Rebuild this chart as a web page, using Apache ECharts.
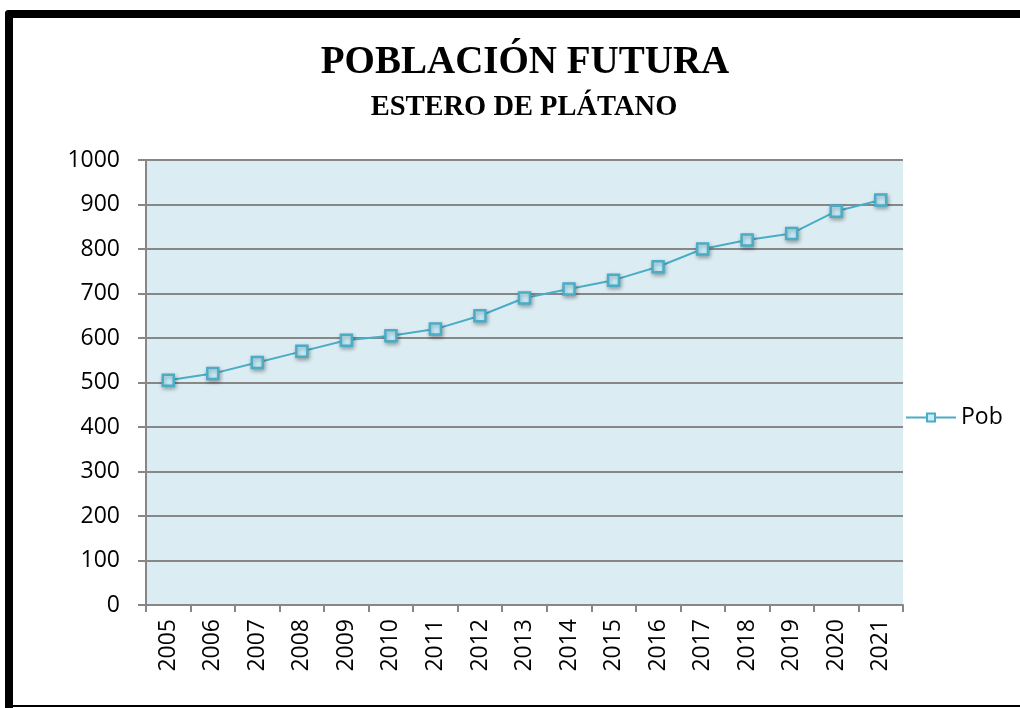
<!DOCTYPE html>
<html>
<head>
<meta charset="utf-8">
<script src="https://cdn.jsdelivr.net/npm/echarts@6/dist/echarts.min.js"></script>
<style>
  html, body { margin: 0; padding: 0; background: #ffffff; }
  #chart { width: 1020px; height: 708px; }
</style>
</head>
<body>
<div id="chart"></div>
<script>
// Projected population, Estero de Plátano
const years = ['2005','2006','2007','2008','2009','2010','2011','2012','2013',
               '2014','2015','2016','2017','2018','2019','2020','2021'];
const pob = [505, 520, 545, 570, 595, 605, 620, 650, 690,
             710, 730, 760, 800, 820, 835, 885, 910];
const yTicks = [0, 100, 200, 300, 400, 500, 600, 700, 800, 900, 1000];

const lineColor = '#4bacc6';
const gridGray = '#878787';
const labelFont = '"Open Sans", "Noto Sans", sans-serif';
const titleFont = '"Liberation Serif", "DejaVu Serif", serif';

const chart = echarts.init(document.getElementById('chart'), null, { renderer: 'canvas' });

chart.setOption({
  backgroundColor: '#ffffff',
  animation: false,
  title: [
    {
      text: 'POBLACIÓN FUTURA',
      left: 520, top: 38, textAlign: 'center',
      textStyle: { fontFamily: titleFont, fontWeight: 'bold', fontSize: 39, color: '#000' }
    },
    {
      text: 'ESTERO DE PLÁTANO',
      left: 519, top: 88, textAlign: 'center',
      textStyle: { fontFamily: titleFont, fontWeight: 'bold', fontSize: 28.5, color: '#000' }
    }
  ],
  legend: {
    data: [{ name: 'Pob' }],
    left: 905, top: 406,
    padding: 0,
    orient: 'vertical',
    itemWidth: 50, itemHeight: 10,
    itemGap: 6,
    textStyle: { fontFamily: labelFont, fontSize: 23, color: '#000' }
  },
  grid: {
    left: 146, right: 117, top: 160, bottom: 103,
    show: true, backgroundColor: '#dbedf3', borderWidth: 0
  },
  xAxis: {
    type: 'category',
    data: years,
    boundaryGap: true,
    axisLine: { lineStyle: { color: gridGray, width: 2 } },
    axisTick: { show: true, length: 7, alignWithLabel: false, lineStyle: { color: gridGray, width: 2 } },
    axisLabel: {
      rotate: 90, margin: 14, interval: 0,
      fontFamily: labelFont, fontSize: 23, color: '#000'
    },
    splitLine: { show: false }
  },
  yAxis: {
    type: 'value',
    min: yTicks[0], max: yTicks[yTicks.length - 1], interval: 100,
    axisLine: { show: true, lineStyle: { color: gridGray, width: 2 } },
    axisTick: { show: true, length: 8, lineStyle: { color: gridGray, width: 2 } },
    axisLabel: {
      margin: 26, fontFamily: labelFont, fontSize: 23, color: '#000',
      formatter: (v) => String(v)
    },
    splitLine: { show: true, lineStyle: { color: gridGray, width: 2 } }
  },
  series: [{
    name: 'Pob',
    type: 'line',
    data: pob,
    symbol: 'rect',
    symbolSize: 11,
    lineStyle: { color: lineColor, width: 2 },
    itemStyle: {
      color: '#c8eefa', borderColor: lineColor, borderWidth: 2.5,
      shadowColor: 'rgba(0,0,0,0.3)', shadowBlur: 4, shadowOffsetX: 1, shadowOffsetY: 2
    },
    z: 3
  }],
  graphic: [
    // frame: heavy top and left edges, thin bottom edge
    { type: 'rect', shape: { x: 5, y: 10, width: 1015, height: 8, r: [4, 0, 0, 0] }, style: { fill: '#000' }, silent: true },
    { type: 'rect', shape: { x: 5, y: 10, width: 8, height: 698, r: [4, 0, 0, 0] }, style: { fill: '#000' }, silent: true },
    { type: 'rect', shape: { x: 13, y: 705, width: 1007, height: 2 }, style: { fill: '#000' }, silent: true }
  ]
});
</script>
</body>
</html>
